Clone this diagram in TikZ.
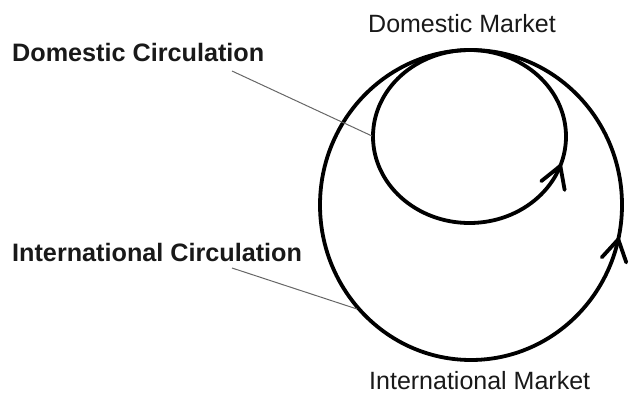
\documentclass[tikz,border=0pt]{standalone}
\usepackage{fontspec}
\setmainfont{Liberation Sans}
\usetikzlibrary{arrows.meta,positioning,calc,decorations.markings}

\begin{document}
\begin{tikzpicture}[
  x=1pt,y=1pt,
  lbl/.style={anchor=base west,inner sep=0pt,text=black!90,font=\fontsize{25}{29}\selectfont},
  heading/.style={lbl,font=\fontsize{25.2}{29}\selectfont\bfseries},
  loop/.style={line width=3.8pt,draw=black},
  flowat/.style={postaction={decorate},decoration={markings,
     mark=at position #1 with {\arrow[line width=3.8pt]{Straight Barb[length=21pt,width=25pt,round]}}}},
  leader/.style={draw=black!60,line width=1pt}
]
\useasboundingbox (0,0) rectangle (629,-396);
% the two circulations
\draw[loop,flowat=0.966] (471,-205) ellipse [x radius=151,y radius=155];
\draw[loop,flowat=0.951] (469.5,-136.5) ellipse [x radius=96.5,y radius=86.5];
% labels
\node[lbl] (dmarket) at (368,-33) {Domestic Market};
\node[lbl] (imarket) at (369,-389) {International Market};
\node[heading] (dcirc) at (12,-62) {Domestic Circulation};
\node[heading] (icirc) at (12,-261) {International Circulation};
% leader lines
\coordinate (dstart) at (232,-71);
\coordinate (dend) at (372,-136);
\coordinate (istart) at (232,-268);
\coordinate (iend) at (357,-309);
\draw[leader] (dstart) -- (dend);
\draw[leader] (istart) -- (iend);
\end{tikzpicture}
\end{document}
